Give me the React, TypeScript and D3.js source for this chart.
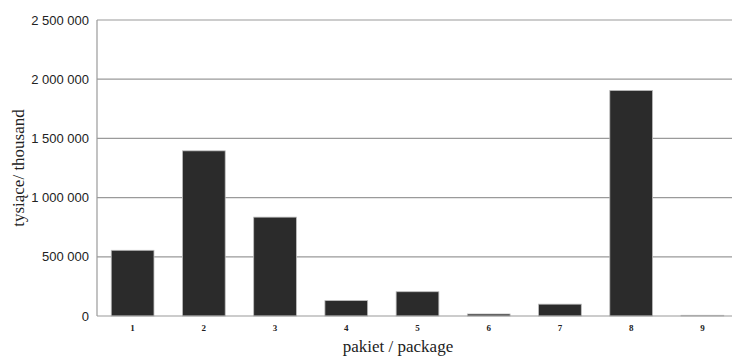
import React from "react";
import * as d3 from "d3";

const categories = ["1", "2", "3", "4", "5", "6", "7", "8", "9"];
const values = [555000, 1395000, 835000, 130000, 205000, 17000, 100000, 1905000, 6000];
const yTicks = [0, 500000, 1000000, 1500000, 2000000, 2500000];
const yTitle = "tysiące/ thousand";
const xTitle = "pakiet / package";

const W = 732;
const H = 356;
const left = 97;
const right = 738;
const top = 20;
const bottom = 316;

const fmt = (v: number) => (v === 0 ? "0" : d3.format(",")(v).replace(/,/g, " "));

export default function App() {
  const x = d3.scaleBand<string>().domain(categories).range([left, right]).paddingInner(0.4).paddingOuter(0.2);
  const y = d3.scaleLinear().domain([0, 2500000]).range([bottom, top]);

  return (
    <svg width={W} height={H} style={{ position: "absolute", left: 0, top: 0, background: "#fff" }}>
      {yTicks.map((t) => (
        <g key={t}>
          {t > 0 && <line x1={left} x2={W} y1={y(t)} y2={y(t)} stroke="#9a9a9a" strokeWidth={1.2} />}
          <text
            x={89}
            y={y(t)}
            dy="0.35em"
            textAnchor="end"
            fontFamily="Liberation Sans, Arial, sans-serif"
            fontSize={13}
            fill="#222"
          >
            {fmt(t)}
          </text>
        </g>
      ))}
      {categories.map((c, i) => (
        <g key={c}>
          <rect
            x={x(c)!}
            y={y(values[i])}
            width={x.bandwidth()}
            height={bottom - y(values[i])}
            fill="#2b2b2b"
            stroke="#bdbdbd"
            strokeWidth={0.8}
          />
          <text
            x={x(c)! + x.bandwidth() / 2}
            y={331}
            textAnchor="middle"
            fontFamily="Liberation Serif, Times New Roman, serif"
            fontWeight="bold"
            fontSize={9}
            fill="#222"
          >
            {c}
          </text>
        </g>
      ))}
      <line x1={left} x2={left} y1={top} y2={bottom} stroke="#9a9a9a" strokeWidth={1.2} />
      <line x1={left} x2={W} y1={bottom} y2={bottom} stroke="#9a9a9a" strokeWidth={1.2} />
      <text
        x={398}
        y={352}
        textAnchor="middle"
        fontFamily="Liberation Serif, Times New Roman, serif"
        fontSize={17}
        fill="#222"
      >
        {xTitle}
      </text>
      <text
        transform="translate(24,168) rotate(-90)"
        textAnchor="middle"
        fontFamily="Liberation Serif, Times New Roman, serif"
        fontSize={17}
        fill="#222"
      >
        {yTitle}
      </text>
    </svg>
  );
}
